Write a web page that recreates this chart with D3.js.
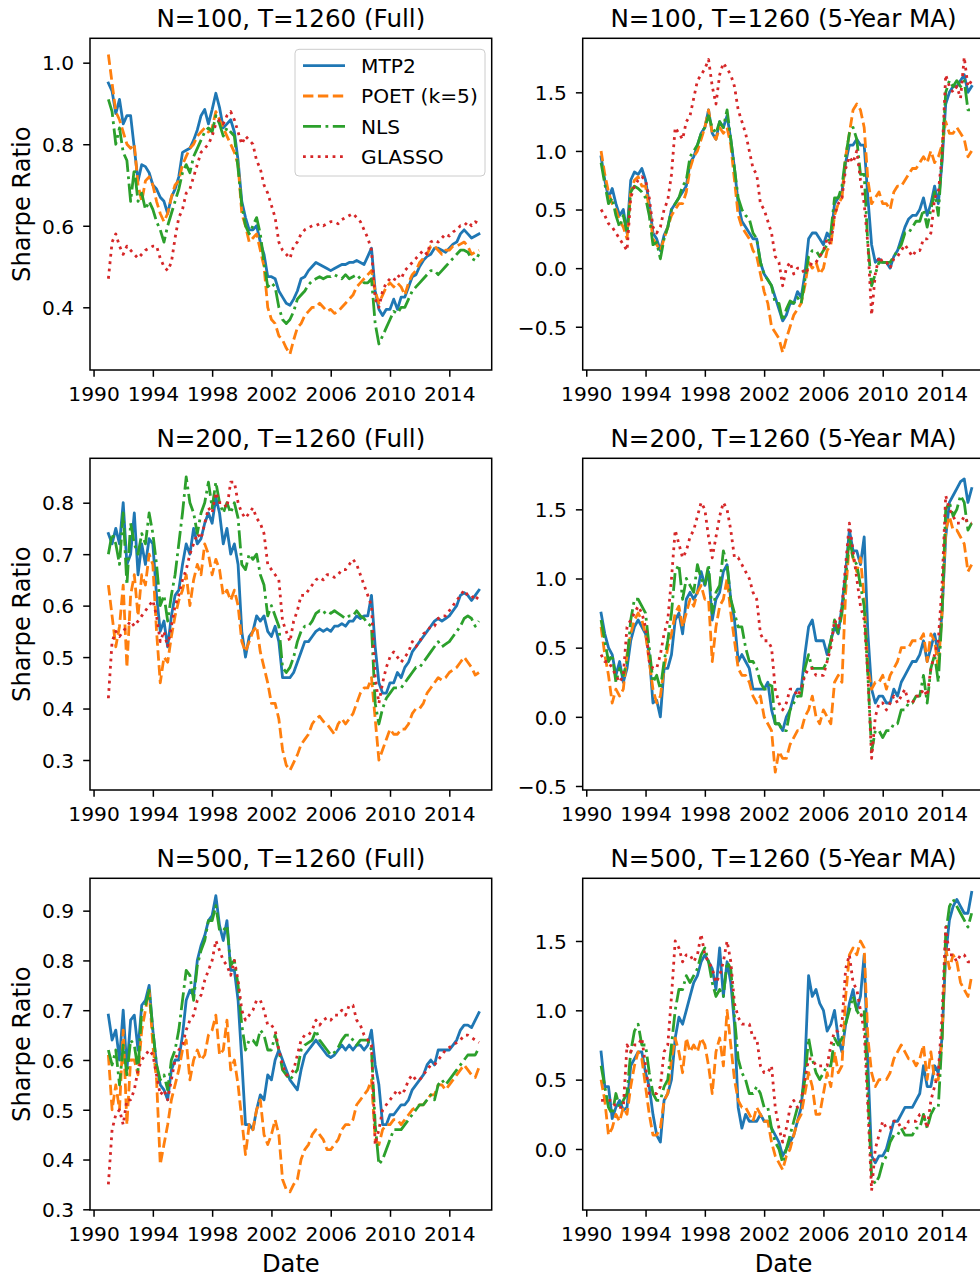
<!DOCTYPE html>
<html lang="en">
<head>
  <meta charset="UTF-8">
  <script src="https://d3js.org/d3.v7.min.js"></script>
  <title>Sharpe Ratio over time</title>
  <style>
    body { margin: 0; background: #fff; font-family: 'DejaVu Sans', sans-serif; }
    svg text { fill: #000; }
  </style>
</head>
<body>
  <svg id="chart" width="980" height="1279"></svg>

  <script>
    // quarterly sampling grid, Dec 1990 .. Dec 2015
    const dates = d3.range(101).map(i => 1991 + i * 0.25);

    const seriesNames = ["MTP2", "POET (k=5)", "NLS", "GLASSO"];
    const seriesColors = ["#1f77b4", "#ff7f0e", "#2ca02c", "#d62728"];
    const xTicks = [1990, 1994, 1998, 2002, 2006, 2010, 2014];

    // N=100, Full
    const n100FullMTP2 = [0.95,0.93,0.875,0.91, 0.85,0.87,0.87,0.79, 0.71,0.75,0.745,0.73, 0.70,0.69,0.67,0.66, 0.63,0.67,0.69,0.72, 0.78,0.785,0.79,0.81, 0.835,0.87,0.885,0.85, 0.885,0.925,0.89,0.84, 0.85,0.86,0.83,0.76, 0.66,0.62,0.59,0.59, 0.60,0.56,0.53,0.475, 0.475,0.47,0.44,0.425, 0.41,0.405,0.42,0.44, 0.47,0.475,0.49,0.50, 0.51,0.505,0.50,0.495, 0.49,0.495,0.50,0.505, 0.505,0.51,0.51,0.515, 0.51,0.505,0.525,0.545, 0.44,0.395,0.38,0.395, 0.395,0.42,0.395,0.425, 0.425,0.45,0.475,0.48, 0.50,0.515,0.525,0.53, 0.545,0.545,0.54,0.535, 0.545,0.555,0.56,0.58, 0.59,0.58,0.57,0.575, 0.58];
    const n100FullPOET = [1.02,0.95,0.88,0.86, 0.83,0.80,0.79,0.80, 0.70,0.66,0.71,0.72, 0.70,0.66,0.63,0.61, 0.63,0.67,0.70,0.71, 0.75,0.77,0.79,0.80, 0.82,0.83,0.84,0.83, 0.84,0.88,0.86,0.84, 0.82,0.80,0.78,0.75, 0.63,0.60,0.56,0.57, 0.58,0.54,0.50,0.40, 0.37,0.36,0.33,0.32, 0.30,0.285,0.32,0.35, 0.36,0.38,0.39,0.40, 0.40,0.41,0.40,0.39, 0.395,0.385,0.39,0.40, 0.41,0.42,0.43,0.45, 0.46,0.47,0.48,0.49, 0.44,0.41,0.43,0.45, 0.46,0.45,0.46,0.45, 0.43,0.46,0.48,0.49, 0.51,0.52,0.53,0.55, 0.55,0.54,0.53,0.54, 0.54,0.55,0.55,0.555, 0.56,0.55,0.53,0.535, 0.54];
    const n100FullNLS = [0.91,0.88,0.80,0.84, 0.78,0.76,0.66,0.74, 0.66,0.68,0.64,0.66, 0.64,0.61,0.59,0.56, 0.60,0.63,0.66,0.69, 0.73,0.75,0.73,0.77, 0.79,0.81,0.83,0.84, 0.83,0.87,0.85,0.82, 0.84,0.83,0.82,0.74, 0.65,0.60,0.58,0.60, 0.62,0.58,0.51,0.45, 0.46,0.45,0.40,0.37, 0.36,0.37,0.39,0.42, 0.43,0.44,0.455,0.465, 0.47,0.475,0.47,0.475, 0.475,0.48,0.475,0.47, 0.48,0.47,0.475,0.48, 0.47,0.46,0.46,0.47, 0.36,0.31,0.33,0.35, 0.37,0.39,0.385,0.40, 0.40,0.42,0.44,0.45, 0.46,0.47,0.48,0.49, 0.49,0.48,0.49,0.50, 0.51,0.52,0.53,0.54, 0.54,0.535,0.52,0.515, 0.53];
    const n100FullGLASSO = [0.47,0.56,0.58,0.55, 0.53,0.55,0.54,0.53, 0.52,0.53,0.54,0.545, 0.55,0.55,0.52,0.50, 0.49,0.51,0.57,0.62, 0.64,0.68,0.69,0.72, 0.75,0.78,0.79,0.80, 0.82,0.85,0.86,0.85, 0.87,0.88,0.86,0.83, 0.80,0.82,0.81,0.80, 0.76,0.74,0.70,0.68, 0.65,0.62,0.56,0.54, 0.53,0.52,0.55,0.56, 0.58,0.59,0.595,0.60, 0.60,0.605,0.60,0.605, 0.61,0.61,0.605,0.615, 0.62,0.625,0.63,0.62, 0.61,0.59,0.57,0.54, 0.42,0.40,0.44,0.46, 0.47,0.465,0.48,0.47, 0.49,0.50,0.51,0.52, 0.53,0.54,0.53,0.56, 0.565,0.56,0.57,0.58, 0.575,0.585,0.59,0.60, 0.60,0.61,0.60,0.61, 0.605];

    // N=100, 5-Year MA
    const n100MaMTP2 = [0.95,0.75,0.60,0.68, 0.55,0.45,0.50,0.30, 0.75,0.82,0.80,0.85, 0.75,0.55,0.30,0.25, 0.15,0.28,0.35,0.50, 0.55,0.60,0.65,0.70, 0.90,0.95,1.05,1.15, 1.20,1.35,1.15,1.10, 1.25,1.20,1.30,1.10, 0.85,0.55,0.40,0.35, 0.30,0.25,0.25,0.05, -0.05,-0.10,-0.15,-0.25, -0.35,-0.45,-0.40,-0.30, -0.30,-0.20,-0.25,-0.05, 0.25,0.30,0.30,0.25, 0.20,0.30,0.25,0.55, 0.60,0.65,0.90,1.05, 1.05,1.10,1.05,1.05, 0.60,0.20,0.05,0.08, 0.05,0.05,0.00,0.10, 0.15,0.25,0.35,0.42, 0.45,0.45,0.50,0.60, 0.45,0.55,0.70,0.55, 0.90,1.40,1.50,1.55, 1.55,1.60,1.65,1.50, 1.55];
    const n100MaPOET = [1.00,0.80,0.65,0.55, 0.50,0.40,0.35,0.25, 0.65,0.75,0.78,0.70, 0.70,0.50,0.25,0.20, 0.15,0.25,0.35,0.45, 0.50,0.55,0.55,0.65, 0.85,0.95,1.00,1.10, 1.20,1.35,1.15,1.10, 1.20,1.15,1.20,1.05, 0.75,0.45,0.35,0.30, 0.25,0.15,0.10,-0.05, -0.20,-0.30,-0.50,-0.55, -0.60,-0.72,-0.60,-0.50, -0.40,-0.35,-0.30,-0.15, 0.05,0.00,0.05,-0.05, 0.00,0.15,0.20,0.45, 0.55,0.60,0.95,1.15, 1.35,1.40,1.35,1.20, 0.75,0.55,0.60,0.65, 0.55,0.55,0.50,0.65, 0.70,0.70,0.75,0.80, 0.85,0.85,0.90,0.95, 0.90,1.00,0.90,0.95, 1.05,1.25,1.15,1.15, 1.20,1.15,1.10,0.95, 1.00];
    const n100MaNLS = [0.90,0.72,0.55,0.60, 0.45,0.35,0.45,0.30, 0.65,0.70,0.68,0.65, 0.60,0.45,0.20,0.22, 0.08,0.25,0.35,0.50, 0.55,0.60,0.70,0.75, 0.95,1.00,1.05,1.15, 1.20,1.30,1.20,1.15, 1.25,1.20,1.35,1.10, 0.85,0.60,0.50,0.45, 0.42,0.30,0.25,0.05, -0.05,-0.10,-0.15,-0.30, -0.30,-0.45,-0.35,-0.28, -0.30,-0.25,-0.30,-0.10, 0.10,0.15,0.15,0.10, 0.15,0.20,0.30,0.60, 0.60,0.70,0.95,1.15, 1.20,1.10,0.80,0.80, 0.20,-0.15,-0.05,0.05, 0.05,0.05,0.05,0.10, 0.15,0.20,0.30,0.30, 0.35,0.40,0.40,0.50, 0.35,0.50,0.65,0.45, 0.95,1.50,1.60,1.55, 1.60,1.55,1.60,1.35, 1.35];
    const n100MaGLASSO = [0.50,0.45,0.38,0.35, 0.30,0.25,0.20,0.15, 0.60,0.70,0.75,0.78, 0.75,0.60,0.35,0.30, 0.35,0.50,0.58,0.80, 1.20,1.15,1.10,1.25, 1.30,1.45,1.60,1.65, 1.70,1.78,1.55,1.40, 1.65,1.75,1.70,1.65, 1.55,1.35,1.25,1.15, 1.00,0.85,0.80,0.55, 0.50,0.40,0.30,0.10, 0.05,-0.15,0.00,0.05, -0.05,0.00,0.00,-0.05, 0.00,0.05,0.05,0.10, 0.15,0.25,0.20,0.45, 0.55,0.60,0.85,0.95, 0.90,1.00,0.75,0.55, 0.20,-0.40,-0.05,0.10, 0.05,0.05,0.00,0.08, 0.10,0.15,0.20,0.15, 0.10,0.15,0.15,0.25, 0.25,0.30,0.60,0.65, 0.95,1.65,1.55,1.50, 1.55,1.45,1.80,1.55, 1.60];

    // N=200, Full
    const n200FullMTP2 = [0.74,0.72,0.75,0.72, 0.80,0.68,0.70,0.78, 0.66,0.72,0.68,0.73, 0.72,0.62,0.55,0.57, 0.52,0.58,0.62,0.63, 0.68,0.72,0.70,0.75, 0.72,0.73,0.76,0.78, 0.76,0.81,0.78,0.72, 0.75,0.70,0.72,0.68, 0.55,0.50,0.54,0.55, 0.58,0.57,0.58,0.55, 0.54,0.56,0.53,0.46, 0.46,0.46,0.47,0.49, 0.51,0.53,0.53,0.54, 0.55,0.555,0.55,0.555, 0.55,0.56,0.56,0.565, 0.56,0.57,0.57,0.58, 0.575,0.58,0.58,0.62, 0.52,0.45,0.43,0.43, 0.45,0.45,0.47,0.46, 0.48,0.49,0.51,0.52, 0.53,0.54,0.55,0.56, 0.57,0.575,0.57,0.575, 0.58,0.59,0.60,0.62, 0.625,0.62,0.61,0.62, 0.63];
    const n200FullPOET = [0.64,0.58,0.52,0.56, 0.64,0.48,0.62,0.66, 0.58,0.66,0.64,0.70, 0.68,0.55,0.45,0.50, 0.49,0.54,0.58,0.61, 0.63,0.66,0.60,0.65, 0.68,0.66,0.72,0.70, 0.66,0.69,0.67,0.62, 0.63,0.61,0.63,0.60, 0.53,0.51,0.53,0.55, 0.56,0.51,0.48,0.45, 0.41,0.41,0.38,0.32, 0.29,0.28,0.295,0.31, 0.33,0.34,0.35,0.37, 0.38,0.385,0.375,0.37, 0.36,0.35,0.37,0.38, 0.37,0.38,0.39,0.41, 0.43,0.44,0.44,0.46, 0.38,0.30,0.32,0.34, 0.36,0.35,0.35,0.36, 0.36,0.37,0.39,0.40, 0.40,0.41,0.43,0.44, 0.45,0.46,0.455,0.46, 0.47,0.475,0.48,0.49, 0.50,0.49,0.48,0.465, 0.47];
    const n200FullNLS = [0.70,0.74,0.72,0.68, 0.78,0.64,0.76,0.72, 0.70,0.74,0.72,0.78, 0.74,0.68,0.60,0.62, 0.57,0.62,0.66,0.72, 0.78,0.85,0.80,0.78, 0.74,0.78,0.80,0.84, 0.79,0.84,0.80,0.78, 0.80,0.78,0.80,0.77, 0.68,0.67,0.70,0.69, 0.70,0.66,0.64,0.58, 0.60,0.58,0.56,0.48, 0.47,0.48,0.50,0.53, 0.55,0.56,0.56,0.57, 0.585,0.59,0.585,0.59, 0.585,0.59,0.585,0.58, 0.575,0.58,0.58,0.59, 0.58,0.575,0.565,0.56, 0.41,0.37,0.40,0.42, 0.43,0.44,0.44,0.44, 0.45,0.46,0.47,0.48, 0.48,0.49,0.50,0.51, 0.52,0.53,0.52,0.525, 0.53,0.54,0.55,0.56, 0.575,0.58,0.575,0.56, 0.57];
    const n200FullGLASSO = [0.42,0.53,0.55,0.54, 0.55,0.56,0.57,0.56, 0.57,0.58,0.59,0.60, 0.61,0.58,0.53,0.55, 0.52,0.56,0.60,0.62, 0.65,0.67,0.70,0.72, 0.74,0.73,0.76,0.79, 0.78,0.82,0.80,0.80, 0.79,0.84,0.84,0.80, 0.78,0.77,0.78,0.79, 0.77,0.76,0.74,0.68, 0.67,0.66,0.65,0.57, 0.55,0.53,0.57,0.59, 0.62,0.62,0.63,0.64, 0.65,0.655,0.65,0.66, 0.66,0.655,0.66,0.67, 0.67,0.68,0.69,0.68, 0.66,0.64,0.62,0.60, 0.46,0.41,0.45,0.48, 0.50,0.51,0.50,0.49, 0.50,0.51,0.53,0.52, 0.53,0.545,0.55,0.56, 0.56,0.575,0.58,0.58, 0.59,0.60,0.61,0.62, 0.63,0.62,0.62,0.61, 0.62];

    // N=200, 5-Year MA
    const n200MaMTP2 = [0.75,0.60,0.50,0.45, 0.30,0.40,0.25,0.35, 0.55,0.65,0.70,0.65, 0.60,0.45,0.10,0.12, 0.00,0.35,0.35,0.45, 0.70,0.75,0.60,0.85, 0.90,0.85,0.90,1.05, 0.95,1.05,0.70,0.85, 0.90,1.05,1.10,0.85, 0.70,0.40,0.45,0.40, 0.35,0.20,0.20,0.20, 0.20,0.25,0.05,-0.05, -0.05,-0.10,0.00,0.05, 0.15,0.20,0.20,0.45, 0.65,0.70,0.55,0.55, 0.55,0.45,0.55,0.65, 0.60,0.80,1.05,1.35, 1.20,1.20,1.10,1.30, 0.60,0.20,0.10,0.15, 0.15,0.10,0.10,0.20, 0.15,0.25,0.30,0.35, 0.40,0.40,0.45,0.55, 0.40,0.50,0.60,0.45, 0.75,1.30,1.55,1.60, 1.65,1.70,1.72,1.55, 1.65];
    const n200MaPOET = [0.65,0.45,0.30,0.10, 0.20,0.15,0.20,0.45, 0.60,0.70,0.75,0.70, 0.60,0.40,0.20,0.10, 0.15,0.35,0.50,0.60, 0.75,0.80,0.65,0.75, 0.85,0.80,0.90,0.95, 0.85,0.85,0.40,0.65, 0.80,0.85,1.00,0.75, 0.55,0.35,0.30,0.30, 0.25,0.15,0.10,0.15, 0.00,-0.05,-0.10,-0.40, -0.25,-0.30,-0.30,-0.20, -0.15,-0.10,-0.10,0.00, 0.05,0.15,0.00,-0.05, 0.05,0.00,-0.05,0.25, 0.30,0.25,0.90,1.25, 1.15,1.05,1.15,0.85, 0.35,0.20,0.25,0.25, 0.30,0.20,0.30,0.35, 0.40,0.50,0.50,0.50, 0.55,0.55,0.55,0.60, 0.40,0.60,0.55,0.35, 0.75,1.35,1.45,1.35, 1.35,1.30,1.25,1.05, 1.10];
    const n200MaNLS = [0.70,0.55,0.40,0.45, 0.25,0.35,0.30,0.40, 0.70,0.85,0.85,0.80, 0.75,0.50,0.25,0.30, 0.20,0.40,0.55,0.75, 1.05,1.10,0.85,1.00, 0.95,0.90,1.10,1.00, 0.95,1.10,0.75,0.90, 0.95,1.20,1.10,0.85, 0.75,0.65,0.65,0.50, 0.40,0.40,0.35,0.25, 0.20,0.20,0.25,-0.05, -0.05,-0.10,-0.10,0.05, 0.10,0.15,0.15,0.35, 0.45,0.35,0.35,0.35, 0.35,0.40,0.55,0.70, 0.60,0.75,1.00,1.30, 1.15,1.10,0.95,0.80, 0.30,-0.25,-0.10,-0.10, -0.15,-0.10,-0.10,-0.05, -0.05,0.05,0.05,0.10, 0.10,0.15,0.15,0.30, 0.10,0.35,0.45,0.25, 0.75,1.50,1.55,1.45, 1.50,1.60,1.55,1.35, 1.40];
    const n200MaGLASSO = [0.45,0.40,0.40,0.35, 0.30,0.25,0.30,0.65, 0.70,0.75,0.80,0.75, 0.65,0.40,0.35,0.35, 0.45,0.60,0.70,1.00, 1.35,1.25,1.15,1.20, 1.30,1.35,1.45,1.55, 1.50,1.30,1.15,1.30, 1.45,1.55,1.50,1.35, 1.15,1.15,1.10,1.05, 1.00,0.90,0.85,0.60, 0.55,0.55,0.50,0.20, 0.10,0.05,0.10,0.20, 0.20,0.15,0.20,0.30, 0.35,0.35,0.30,0.30, 0.30,0.40,0.50,0.70, 0.65,0.80,1.10,1.40, 1.20,1.00,0.80,0.70, 0.30,-0.30,0.00,0.10, 0.10,0.05,0.10,0.15, 0.10,0.15,0.20,0.10, 0.10,0.15,0.15,0.20, 0.15,0.35,0.45,0.55, 0.95,1.60,1.50,1.45, 1.40,1.40,1.45,1.40, 1.40];

    // N=500, Full
    const n500FullMTP2 = [0.69,0.64,0.66,0.60, 0.70,0.58,0.68,0.69, 0.62,0.71,0.72,0.75, 0.66,0.59,0.55,0.54, 0.52,0.58,0.60,0.60, 0.65,0.72,0.74,0.73, 0.80,0.83,0.85,0.88, 0.89,0.93,0.87,0.84, 0.88,0.78,0.78,0.72, 0.60,0.47,0.47,0.46, 0.50,0.53,0.52,0.57, 0.56,0.60,0.62,0.60, 0.58,0.56,0.55,0.54, 0.58,0.61,0.62,0.63, 0.64,0.63,0.62,0.61, 0.605,0.61,0.62,0.63, 0.62,0.63,0.62,0.63, 0.63,0.62,0.63,0.66, 0.59,0.55,0.47,0.47, 0.49,0.49,0.50,0.51, 0.51,0.52,0.54,0.55, 0.56,0.57,0.59,0.60, 0.59,0.62,0.62,0.62, 0.62,0.63,0.64,0.66, 0.67,0.67,0.665,0.68, 0.695];
    const n500FullPOET = [0.61,0.50,0.55,0.50, 0.66,0.47,0.60,0.60, 0.57,0.66,0.70,0.74, 0.63,0.56,0.39,0.43, 0.47,0.52,0.55,0.58, 0.62,0.64,0.56,0.60, 0.62,0.60,0.61,0.65, 0.66,0.69,0.61,0.62, 0.68,0.58,0.60,0.55, 0.48,0.41,0.47,0.46, 0.50,0.52,0.45,0.43, 0.45,0.48,0.45,0.36, 0.34,0.335,0.35,0.36, 0.40,0.42,0.43,0.45, 0.46,0.45,0.44,0.42, 0.42,0.43,0.44,0.46, 0.47,0.47,0.48,0.51, 0.52,0.53,0.54,0.56, 0.44,0.43,0.46,0.47, 0.47,0.48,0.48,0.47, 0.48,0.49,0.50,0.505, 0.51,0.51,0.52,0.53, 0.53,0.55,0.55,0.54, 0.55,0.56,0.57,0.58, 0.59,0.58,0.57,0.565, 0.585];
    const n500FullNLS = [0.62,0.59,0.62,0.55, 0.63,0.57,0.64,0.63, 0.58,0.70,0.71,0.74, 0.66,0.59,0.56,0.57, 0.54,0.60,0.62,0.66, 0.72,0.78,0.77,0.72, 0.79,0.82,0.84,0.88, 0.88,0.91,0.86,0.86, 0.87,0.79,0.80,0.75, 0.67,0.62,0.64,0.64, 0.63,0.66,0.65,0.62, 0.62,0.65,0.62,0.58, 0.57,0.56,0.57,0.58, 0.62,0.63,0.635,0.64, 0.66,0.64,0.63,0.62, 0.61,0.615,0.625,0.64, 0.65,0.65,0.64,0.63, 0.64,0.64,0.64,0.62, 0.47,0.39,0.40,0.42, 0.44,0.46,0.46,0.46, 0.47,0.48,0.49,0.50, 0.51,0.51,0.52,0.53, 0.52,0.55,0.56,0.55, 0.56,0.57,0.58,0.59, 0.60,0.61,0.61,0.61, 0.625];
    const n500FullGLASSO = [0.35,0.46,0.49,0.50, 0.47,0.52,0.52,0.54, 0.58,0.60,0.61,0.62, 0.61,0.57,0.53,0.54, 0.52,0.56,0.60,0.62, 0.63,0.66,0.68,0.69, 0.72,0.73,0.76,0.78, 0.80,0.84,0.82,0.80, 0.79,0.77,0.80,0.76, 0.70,0.68,0.69,0.70, 0.72,0.72,0.70,0.67, 0.67,0.66,0.62,0.59, 0.57,0.57,0.58,0.61, 0.64,0.65,0.65,0.66, 0.68,0.67,0.68,0.685, 0.68,0.69,0.69,0.70, 0.69,0.71,0.71,0.68, 0.67,0.65,0.64,0.63, 0.43,0.46,0.50,0.51, 0.52,0.53,0.54,0.53, 0.54,0.56,0.57,0.56, 0.56,0.57,0.58,0.59, 0.59,0.60,0.61,0.62, 0.625,0.63,0.635,0.64, 0.65,0.65,0.645,0.64, 0.635];

    // N=500, 5-Year MA
    const n500MaMTP2 = [0.70,0.45,0.45,0.22, 0.30,0.35,0.28,0.30, 0.60,0.65,0.70,0.70, 0.55,0.45,0.25,0.10, 0.05,0.35,0.40,0.50, 0.80,0.95,0.90,1.00, 1.10,1.20,1.25,1.35, 1.40,1.35,1.30,1.15, 1.45,1.10,1.35,1.20, 0.90,0.30,0.15,0.25, 0.20,0.20,0.20,0.25, 0.20,0.20,0.15,0.10, 0.05,-0.05,0.00,0.05, 0.10,0.20,0.30,0.60, 1.25,1.10,1.15,1.05, 1.00,0.85,0.90,1.00, 0.80,0.70,0.90,1.05, 1.15,1.00,1.10,1.40, 0.60,-0.05,-0.10,-0.05, -0.05,0.00,0.10,0.20, 0.20,0.25,0.30,0.30, 0.30,0.35,0.40,0.60, 0.45,0.45,0.60,0.55, 0.80,1.40,1.65,1.75, 1.80,1.75,1.70,1.70, 1.85];
    const n500MaPOET = [0.50,0.35,0.10,0.15, 0.25,0.20,0.30,0.25, 0.45,0.60,0.70,0.65, 0.45,0.25,0.10,0.10, 0.15,0.35,0.40,0.65, 0.80,0.70,0.55,0.80, 0.70,0.75,0.70,0.80, 0.75,0.60,0.40,0.70, 0.80,0.60,1.00,0.75, 0.50,0.35,0.30,0.30, 0.25,0.20,0.30,0.25, 0.20,0.20,0.05,-0.05, -0.10,-0.15,-0.05,0.00, 0.10,0.20,0.25,0.40, 0.55,0.45,0.25,0.25, 0.40,0.55,0.45,0.70, 0.55,0.60,1.10,1.40, 1.45,1.40,1.50,1.45, 0.80,0.55,0.45,0.50, 0.50,0.50,0.55,0.65, 0.70,0.75,0.70,0.65, 0.65,0.60,0.65,0.75, 0.50,0.70,0.50,0.50, 0.80,1.45,1.30,1.40, 1.35,1.20,1.15,1.10, 1.25];
    const n500MaNLS = [0.60,0.45,0.30,0.25, 0.40,0.30,0.35,0.40, 0.70,0.85,0.90,0.75, 0.75,0.55,0.40,0.35, 0.35,0.45,0.50,0.75, 1.00,1.15,1.15,1.25, 1.20,1.25,1.30,1.40, 1.45,1.35,1.20,1.10, 1.15,1.10,1.35,1.30, 0.95,0.65,0.55,0.50, 0.40,0.40,0.45,0.40, 0.30,0.30,0.15,0.05, 0.00,-0.10,0.00,0.10, 0.20,0.30,0.35,0.50, 0.80,0.65,0.55,0.50, 0.55,0.60,0.60,0.80, 0.75,0.80,0.90,1.00, 1.10,1.00,0.95,1.00, 0.40,-0.20,-0.25,-0.20, -0.10,-0.05,0.05,0.10, 0.10,0.15,0.10,0.10, 0.10,0.15,0.15,0.25, 0.15,0.25,0.30,0.30, 0.80,1.55,1.75,1.80, 1.75,1.70,1.65,1.60, 1.70];
    const n500MaGLASSO = [0.35,0.35,0.35,0.35, 0.30,0.30,0.30,0.75, 0.70,0.75,0.75,0.80, 0.60,0.40,0.40,0.40, 0.45,0.70,0.75,1.10, 1.50,1.45,1.35,1.40, 1.40,1.35,1.40,1.55, 1.40,1.35,1.30,1.20, 1.25,1.35,1.50,1.35, 1.05,0.95,0.90,0.90, 0.90,0.80,0.80,0.60, 0.55,0.55,0.60,0.30, 0.15,0.05,0.15,0.30, 0.35,0.30,0.35,0.50, 0.65,0.65,0.60,0.60, 0.60,0.60,0.75,0.85, 0.85,0.90,1.30,1.40, 1.20,1.15,1.00,0.85, 0.30,-0.30,0.00,0.10, 0.20,0.15,0.15,0.20, 0.20,0.15,0.15,0.20, 0.20,0.20,0.25,0.25, 0.15,0.35,0.45,0.55, 0.95,1.60,1.40,1.40, 1.35,1.40,1.40,1.35, 1.35];

    const svg = d3.select("#chart");
    const font = "'DejaVu Sans', sans-serif";

    // line styles, matplotlib-like
    const lineWidth = 2.8;
    const dashArrays = [null, "10.4,4.5", "18,4.5,2.8,4.5", "2.8,4.6"];

    // panel frames (left / right columns, three rows)
    const colX = [[90, 491.7], [582.7, 984.4]];
    const rowY = [[38.3, 370], [458.3, 790], [878.3, 1210]];
    const xDomain = [1989.76, 2016.86];

    const panels = [
      { title: "N=100, T=1260 (Full)", col: 0, row: 0, yDomain: [0.2462, 1.0598], yTicks: [0.4, 0.6, 0.8, 1.0],
        series: [n100FullMTP2, n100FullPOET, n100FullNLS, n100FullGLASSO], legend: true },
      { title: "N=100, T=1260 (5-Year MA)", col: 1, row: 0, yDomain: [-0.869, 1.961], yTicks: [-0.5, 0, 0.5, 1.0, 1.5],
        series: [n100MaMTP2, n100MaPOET, n100MaNLS, n100MaGLASSO] },
      { title: "N=200, T=1260 (Full)", col: 0, row: 1, yDomain: [0.2417, 0.8863], yTicks: [0.3, 0.4, 0.5, 0.6, 0.7, 0.8],
        series: [n200FullMTP2, n200FullPOET, n200FullNLS, n200FullGLASSO] },
      { title: "N=200, T=1260 (5-Year MA)", col: 1, row: 1, yDomain: [-0.529, 1.869], yTicks: [-0.5, 0, 0.5, 1.0, 1.5],
        series: [n200MaMTP2, n200MaPOET, n200MaNLS, n200MaGLASSO] },
      { title: "N=500, T=1260 (Full)", col: 0, row: 2, yDomain: [0.2986, 0.965], yTicks: [0.3, 0.4, 0.5, 0.6, 0.7, 0.8, 0.9],
        series: [n500FullMTP2, n500FullPOET, n500FullNLS, n500FullGLASSO] },
      { title: "N=500, T=1260 (5-Year MA)", col: 1, row: 2, yDomain: [-0.44, 1.952], yTicks: [0, 0.5, 1.0, 1.5],
        series: [n500MaMTP2, n500MaPOET, n500MaNLS, n500MaGLASSO] }
    ];

    const fmt = d3.format(".1f");
    const tickFont = 20.2, titleFont = 24.6, labelFont = 24.2;

    panels.forEach((p, pi) => {
      const [x0, x1] = colX[p.col];
      const [y0, y1] = rowY[p.row];
      const x = d3.scaleLinear().domain(xDomain).range([x0, x1]);
      const y = d3.scaleLinear().domain(p.yDomain).range([y1, y0]);

      const g = svg.append("g");

      g.append("clipPath").attr("id", "clip" + pi)
        .append("rect").attr("x", x0).attr("y", y0).attr("width", x1 - x0).attr("height", y1 - y0);

      const line = d3.line().x((d, i) => x(dates[i])).y(d => y(d));

      const lines = g.append("g").attr("clip-path", `url(#clip${pi})`);
      p.series.forEach((vals, si) => {
        lines.append("path")
          .datum(vals)
          .attr("d", line)
          .attr("fill", "none")
          .attr("stroke", seriesColors[si])
          .attr("stroke-width", lineWidth)
          .attr("stroke-linejoin", "round")
          .attr("stroke-linecap", si === 0 ? "square" : "butt")
          .attr("stroke-dasharray", dashArrays[si]);
      });

      // frame
      g.append("rect")
        .attr("x", x0).attr("y", y0).attr("width", x1 - x0).attr("height", y1 - y0)
        .attr("fill", "none").attr("stroke", "#000").attr("stroke-width", 1.5);

      // x axis
      const xAxis = g.append("g").attr("transform", `translate(0,${y1})`)
        .call(d3.axisBottom(x).tickValues(xTicks).tickFormat(d3.format("d")).tickSize(6.8).tickPadding(6));
      xAxis.select(".domain").remove();
      xAxis.selectAll(".tick line").attr("stroke-width", 1.5);
      xAxis.selectAll(".tick text").attr("font-family", font).attr("font-size", tickFont).attr("dy", null).attr("y", 31);

      // y axis
      const yAxis = g.append("g").attr("transform", `translate(${x0},0)`)
        .call(d3.axisLeft(y).tickValues(p.yTicks).tickFormat(fmt).tickSize(6.8).tickPadding(9));
      yAxis.select(".domain").remove();
      yAxis.selectAll(".tick line").attr("stroke-width", 1.5);
      yAxis.selectAll(".tick text").attr("font-family", font).attr("font-size", tickFont).attr("dy", "0.36em");

      // title
      g.append("text")
        .attr("x", (x0 + x1) / 2).attr("y", y0 - 11)
        .attr("text-anchor", "middle")
        .attr("font-family", font).attr("font-size", titleFont)
        .text(p.title);

      if (p.col === 0) {
        g.append("text")
          .attr("transform", `translate(30,${(y0 + y1) / 2}) rotate(-90)`)
          .attr("text-anchor", "middle")
          .attr("font-family", font).attr("font-size", labelFont)
          .text("Sharpe Ratio");
      }
      if (p.row === 2) {
        g.append("text")
          .attr("x", (x0 + x1) / 2).attr("y", 1272.3)
          .attr("text-anchor", "middle")
          .attr("font-family", font).attr("font-size", labelFont)
          .text("Date");
      }

      if (p.legend) {
        const lg = g.append("g");
        lg.append("rect")
          .attr("x", 295).attr("y", 49.3).attr("width", 190).attr("height", 126.7).attr("rx", 4)
          .attr("fill", "#fff").attr("fill-opacity", 0.8)
          .attr("stroke", "#cccccc").attr("stroke-width", 1);
        seriesNames.forEach((name, si) => {
          const ly = 65.7 + si * 30.3;
          lg.append("line")
            .attr("x1", 303).attr("x2", 345).attr("y1", ly).attr("y2", ly)
            .attr("stroke", seriesColors[si]).attr("stroke-width", lineWidth)
            .attr("stroke-dasharray", dashArrays[si]);
          lg.append("text")
            .attr("x", 361).attr("y", ly).attr("dy", "0.36em")
            .attr("font-family", font).attr("font-size", tickFont)
            .text(name);
        });
      }
    });
  </script>
</body>
</html>
